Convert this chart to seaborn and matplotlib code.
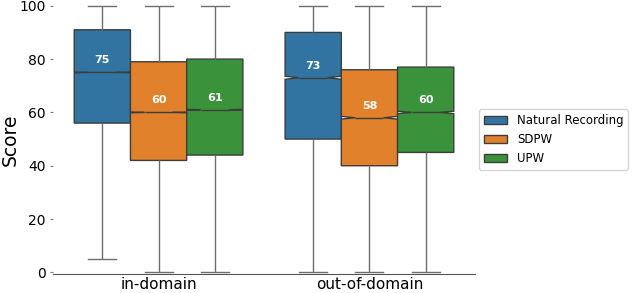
import numpy as np
import pandas as pd
import matplotlib
matplotlib.use("Agg")
import matplotlib.pyplot as plt
import seaborn as sns

# box statistics
domains = ["in-domain", "out-of-domain"]
systems = ["Natural Recording", "SDPW", "UPW"]

# one row per domain, one column per system
score_min = [[5, 0, 0], [0, 0, 0]]
score_q1 = [[56, 42, 44], [50, 40, 45]]
score_med = [[75, 60, 61], [73, 58, 60]]
score_q3 = [[91, 79, 80], [90, 76, 77]]
score_max = [[100, 100, 100], [100, 100, 100]]
# ratings per box (sets the notch size)
n_ratings = [150000, 12000]

parts = []
for d, dom in enumerate(domains):
    for s, sysname in enumerate(systems):
        vals = [score_min[d][s], score_q1[d][s], score_med[d][s],
                score_q3[d][s], score_max[d][s]]
        scores = np.repeat(vals, n_ratings[d] // 5)
        parts.append(pd.DataFrame({"domain": dom, "system": sysname,
                                   "Score": scores}))
df = pd.concat(parts, ignore_index=True)

fig = plt.figure(figsize=(6.4, 2.93), dpi=100)
ax = fig.add_axes([0.083, 0.064, 0.659, 0.919])

sns.boxplot(data=df, x="domain", y="Score", hue="system", order=domains,
            hue_order=systems, notch=True, whis=(0, 100), width=0.8,
            linewidth=1, whiskerprops={"color": "#6e6e6e"},
            capprops={"color": "#6e6e6e"}, ax=ax)

# median labels inside the boxes
for cont in ax.containers:
    for med in cont.medians:
        x = np.mean(med.get_xdata())
        y = med.get_ydata()[0]
        ax.text(x, y + 4.5, f"{y:.0f}", color="white", fontsize=8,
                fontweight="bold", ha="center", va="center")

ax.set_ylim(-0.7, 100.3)
ax.set_xlim(-0.5, 1.5)
ax.set_yticks([0, 20, 40, 60, 80, 100])
ax.set_xlabel("")
ax.set_ylabel("Score", fontsize=13.5)
ax.yaxis.set_label_coords(-0.078, 0.5)
ax.tick_params(axis="y", labelsize=10, length=2, color="gray")
ax.tick_params(axis="x", labelsize=11, length=0, pad=2)
for side in ["top", "right", "left"]:
    ax.spines[side].set_visible(False)
ax.spines["bottom"].set_color("#555555")

sns.move_legend(ax, "center left", bbox_to_anchor=(1.01, 0.5), title=None,
                frameon=True, fontsize=8.5, borderaxespad=0)

fig.savefig("out.png", dpi=100)
